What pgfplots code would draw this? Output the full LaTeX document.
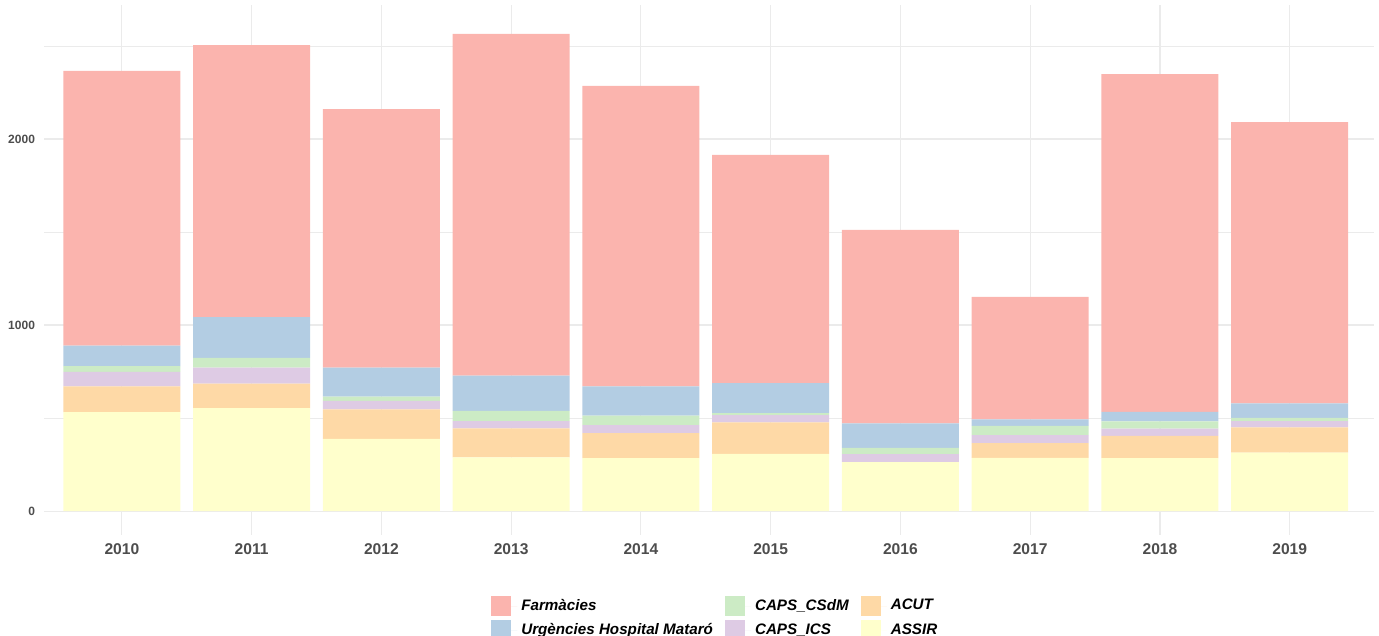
\documentclass[border=0pt]{standalone}
\usepackage{fontspec}
\setmainfont{Liberation Sans}
\usepackage{pgfplots}
\usepackage{pgfplotstable}
\pgfplotsset{compat=1.18}
\definecolor{cfarm}{HTML}{FBB4AE}
\definecolor{curg}{HTML}{B3CDE3}
\definecolor{ccsdm}{HTML}{CCEBC5}
\definecolor{cics}{HTML}{DECBE4}
\definecolor{cacut}{HTML}{FED9A6}
\definecolor{cassir}{HTML}{FFFFCC}
\definecolor{gridc}{HTML}{EBEBEB}
\definecolor{tickc}{HTML}{4D4D4D}

% stacked from bottom: ASSIR, ACUT, CAPS_ICS, CAPS_CSdM, Urgencies, Farmacies
\pgfplotstableread{
x assir acut ics csdm urg farm
0 532 138 79 31 109 1477
1 554 131 87 52 219 1462
2 389 158 46 22 157 1389
3 289 156 39 55 189 1837
4 285 134 43 52 156 1615
5 308 169 39 11 161 1226
6 263 0 43 34 132 1039
7 287 79 43 50 34 658
8 285 120 38 39 52 1815
9 315 135 34 18 77 1512
}\datatable

\begin{document}
\begin{tikzpicture}
\begin{axis}[
    at={(0,0)}, anchor=south west,
    scale only axis,
    width=665pt, height=265pt,
    ybar stacked,
    bar width=58.5pt,
    xmin=-0.6, xmax=9.65,
    ymin=-128, ymax=2720,
    xtick={0,1,2,3,4,5,6,7,8,9},
    xticklabels={2010,2011,2012,2013,2014,2015,2016,2017,2018,2019},
    ytick={0,1000,2000},
    minor ytick={500,1500,2500},
    grid=both,
    major grid style={gridc, line width=0.6pt},
    minor grid style={gridc, line width=0.35pt},
    axis line style={draw=none},
    major tick length=0pt, minor tick length=0pt,
    /pgf/number format/assume math mode=true,
    scaled y ticks=false,
    yticklabel style={/pgf/number format/1000 sep={}, font=\fontsize{6}{7}\selectfont\bfseries, text=tickc, xshift=-1pt},
    xticklabel style={font=\fontsize{7.8}{9}\selectfont\bfseries, text=tickc, yshift=-1pt},
    legend columns=3,
    legend style={draw=none, fill=none, at={(0.3315,-0.105)}, anchor=north west,
        font=\fontsize{7.6}{9}\selectfont\bfseries\itshape,
        /tikz/every even column/.append style={column sep=4pt},
        row sep=1pt},
    legend cell align=left,
    legend image code/.code={\fill[#1, draw=none] (0pt,-5pt) rectangle (10pt,5pt); \path (0pt,0pt) -- (13pt,0pt);},
]
\addplot[fill=cassir, draw=none, forget plot] table[x=x, y=assir] {\datatable};
\addplot[fill=cacut, draw=none, forget plot] table[x=x, y=acut] {\datatable};
\addplot[fill=cics, draw=none, forget plot] table[x=x, y=ics] {\datatable};
\addplot[fill=ccsdm, draw=none, forget plot] table[x=x, y=csdm] {\datatable};
\addplot[fill=curg, draw=none, forget plot] table[x=x, y=urg] {\datatable};
\addplot[fill=cfarm, draw=none, forget plot] table[x=x, y=farm] {\datatable};

\addlegendimage{fill=cfarm, draw=none}
\addlegendentry{Farmàcies}
\addlegendimage{fill=ccsdm, draw=none}
\addlegendentry{CAPS\_CSdM}
\addlegendimage{fill=cacut, draw=none}
\addlegendentry{ACUT}
\addlegendimage{fill=curg, draw=none}
\addlegendentry{Urgències Hospital Mataró}
\addlegendimage{fill=cics, draw=none}
\addlegendentry{CAPS\_ICS}
\addlegendimage{fill=cassir, draw=none}
\addlegendentry{ASSIR}
\end{axis}
\pgfresetboundingbox
\useasboundingbox (-22pt,-50.5pt) rectangle (667.5pt,267.5pt);
\end{tikzpicture}
\end{document}
